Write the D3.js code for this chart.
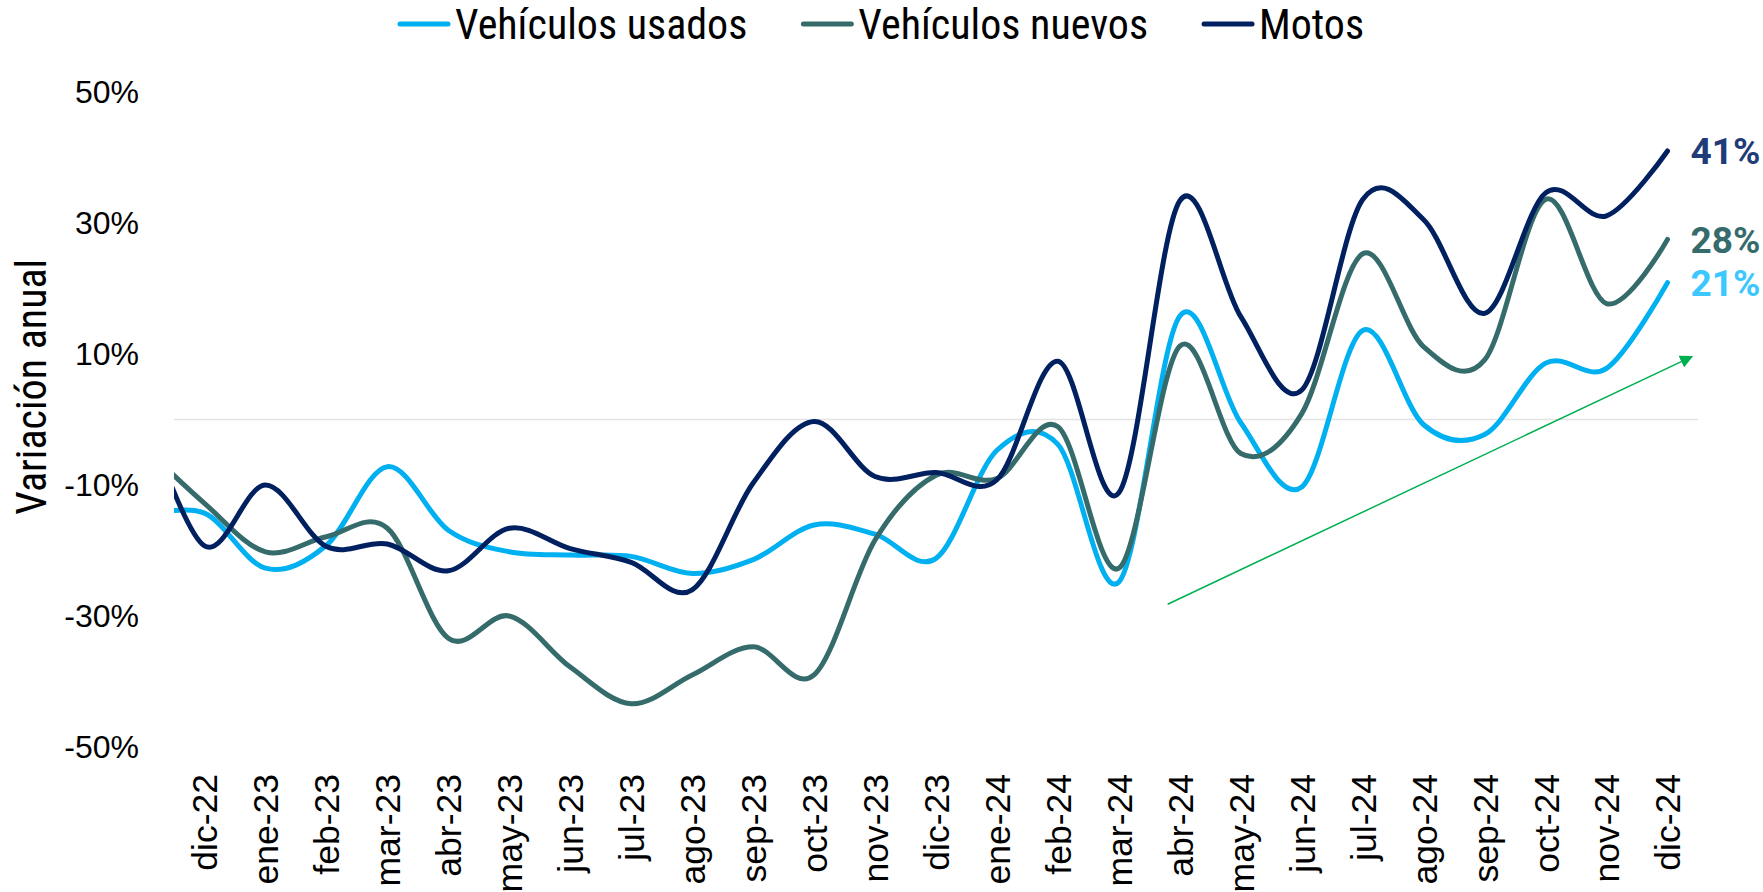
<!DOCTYPE html>
<html>
<head>
<meta charset="utf-8">
<script src="https://cdn.jsdelivr.net/npm/d3@7"></script>
<style>
  body { margin: 0; background: #fff; }
  svg { display: block; }
  .narrow { font-family: "Liberation Sans Narrow", "Roboto Condensed", "Arial Narrow", sans-serif; font-stretch: condensed; }
</style>
</head>
<body>
<svg id="chart"></svg>
<script>
// months shown on the axis (the series carry one extra leading month, nov-22, cut by the plot edge)
const months = ["dic-22", "ene-23", "feb-23", "mar-23", "abr-23", "may-23", "jun-23", "jul-23",
    "ago-23", "sep-23", "oct-23", "nov-23", "dic-23", "ene-24", "feb-24", "mar-24", "abr-24",
    "may-24", "jun-24", "jul-24", "ago-24", "sep-24", "oct-24", "nov-24", "dic-24"];

// nov-22 first, then dic-22 .. dic-24 (% annual change)
const usados = [-14.8, -14.3, -22.7, -19.2, -7.2, -16.9, -20.2, -20.7, -20.9, -23.5, -21.4, -16.1,
    -17.5, -21.2, -4.7, -3.8, -24.8, 15.8, -0.5, -10.3, 13.6, -0.8, -2.3, 8.6, 7.8, 20.9];
const nuevos = [-4.1, -12.8, -20.2, -17.9, -16.6, -33.4, -30.0, -37.8, -43.4, -39.0, -34.7, -39.0,
    -18.4, -8.5, -9.0, -1.1, -22.7, 11.2, -5.2, 0.9, 25.3, 11.1, 9.1, 33.6, 17.7, 27.5];
const motos = [1.5, -19.3, -10.0, -19.4, -19.0, -23.1, -16.6, -19.7, -21.8, -26.0, -9.7, -0.3,
    -8.7, -8.1, -9.2, 8.9, -11.2, 33.4, 15.7, 4.5, 33.6, 30.5, 16.2, 34.6, 31.1, 41.0];

const seriesNames = ["Vehículos usados", "Vehículos nuevos", "Motos"];
const yTicks = [-50, -30, -10, 10, 30, 50];
const endLabels = ["21%", "28%", "41%"];
// trend arrow, in (month index, %) units
const trendFrom = [15.8, -28.2];
const trendTo = [24.4, 9.6];

const width = 1763, height = 892;
const margin = { top: 92, right: 65, bottom: 145, left: 174 };

const svg = d3.select("#chart").attr("width", width).attr("height", height);

const lineColors = ["#00B0F0", "#366B6B", "#002060"];
const labelColors = ["#3CC8FF", "#366B6B", "#1F3C78"];

const x = d3.scaleLinear().domain([-0.5, months.length - 0.5]).range([margin.left, width - margin.right]);
const y = d3.scaleLinear().domain([-50, 50]).range([height - margin.bottom, margin.top]);

// zero line
svg.append("line")
    .attr("x1", x.range()[0]).attr("x2", x.range()[1])
    .attr("y1", y(0)).attr("y2", y(0))
    .attr("stroke", "#E3E3E3").attr("stroke-width", 1.5);

// y axis
const yAxis = svg.append("g")
    .attr("transform", `translate(${margin.left},0)`)
    .call(d3.axisLeft(y).tickValues(yTicks).tickFormat(d => d + "%").tickSize(0).tickPadding(35));
yAxis.select(".domain").remove();
yAxis.selectAll("text")
    .attr("font-family", "'Liberation Sans', Arial, sans-serif")
    .attr("font-size", 32).attr("fill", "#000");

// x axis, rotated labels
const xAxis = svg.append("g")
    .attr("transform", `translate(0,${height - margin.bottom})`)
    .call(d3.axisBottom(x).tickValues(d3.range(months.length)).tickFormat(i => months[i]).tickSize(0));
xAxis.select(".domain").remove();
xAxis.selectAll("text")
    .attr("font-family", "'Liberation Sans', Arial, sans-serif")
    .attr("font-size", 35.5).attr("fill", "#000")
    .attr("transform", "rotate(-90)")
    .attr("text-anchor", "end")
    .attr("dy", "0.35em")
    .attr("x", -27).attr("y", 0);

// axis title
svg.append("text")
    .attr("class", "narrow")
    .attr("transform", `translate(31,${y(5)}) rotate(-90)`)
    .attr("text-anchor", "middle").attr("dy", "0.35em")
    .attr("font-size", 42).attr("fill", "#000")
    .text("Variación anual");

// lines
svg.append("clipPath").attr("id", "plot-clip")
    .append("rect")
    .attr("x", margin.left).attr("y", 0)
    .attr("width", width - margin.left).attr("height", height);

const line = d3.line()
    .x((d, i) => x(i - 1))
    .y(d => y(d))
    .curve(d3.curveCardinal.tension(0));

const allSeries = [usados, nuevos, motos];
svg.append("g").attr("clip-path", "url(#plot-clip)")
    .selectAll("path").data(allSeries).join("path")
    .attr("d", line)
    .attr("fill", "none")
    .attr("stroke", (d, i) => lineColors[i])
    .attr("stroke-width", 5)
    .attr("stroke-linecap", "round");

// end labels
svg.selectAll(".end-label").data(allSeries).join("text")
    .attr("class", "end-label")
    .attr("x", x(months.length - 1) + 23)
    .attr("y", d => y(d[d.length - 1]))
    .attr("dy", "0.36em")
    .attr("font-family", "Roboto, sans-serif")
    .attr("font-weight", "bold")
    .attr("font-size", 37)
    .attr("fill", (d, i) => labelColors[i])
    .text((d, i) => endLabels[i]);

// trend arrow
svg.append("defs").append("marker")
    .attr("id", "arrow")
    .attr("viewBox", "0 0 10 10")
    .attr("refX", 9).attr("refY", 5)
    .attr("markerWidth", 13).attr("markerHeight", 13)
    .attr("markerUnits", "userSpaceOnUse")
    .attr("orient", "auto")
    .append("path").attr("d", "M0,0L10,5L0,10Z").attr("fill", "#00B050");

svg.append("line")
    .attr("x1", x(trendFrom[0])).attr("y1", y(trendFrom[1]))
    .attr("x2", x(trendTo[0])).attr("y2", y(trendTo[1]))
    .attr("stroke", "#00B050").attr("stroke-width", 1.5)
    .attr("marker-end", "url(#arrow)");

// legend
const legend = svg.append("g").attr("transform", "translate(398,24)");
let lx = 0;
seriesNames.forEach((name, i) => {
    const g = legend.append("g").attr("transform", `translate(${lx},0)`);
    g.append("line")
        .attr("x1", 2).attr("x2", 50).attr("y1", 0).attr("y2", 0)
        .attr("stroke", lineColors[i]).attr("stroke-width", 5).attr("stroke-linecap", "round");
    const t = g.append("text")
        .attr("class", "narrow")
        .attr("x", 57).attr("dy", "0.35em")
        .attr("font-size", 42).attr("fill", "#000")
        .text(name);
    lx += 57 + t.node().getComputedTextLength() + 54;
});
</script>
</body>
</html>
